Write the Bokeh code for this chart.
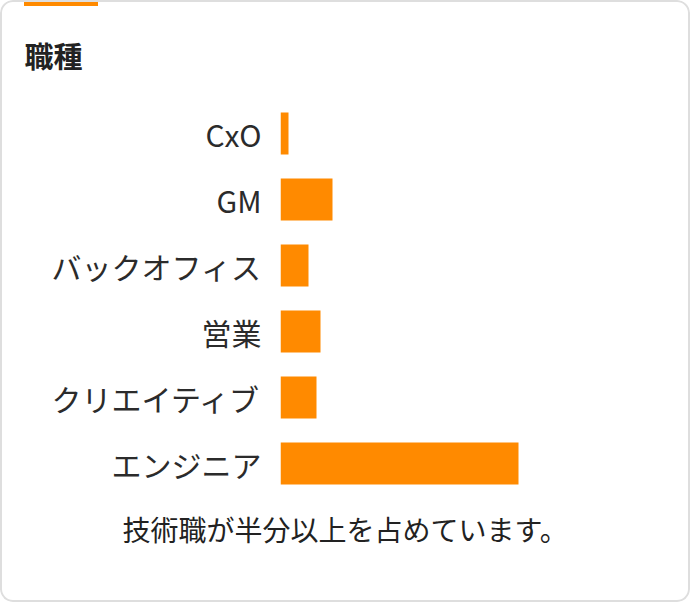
from bokeh.plotting import figure
from bokeh.models import Range1d, FactorRange, Title
from bokeh.embed import file_html
from bokeh.resources import INLINE

# ---- data ----
title_text = "職種"
categories = ["CxO", "GM", "バックオフィス", "営業", "クリエイティブ", "エンジニア"]
shares = [2, 13, 7, 10, 9, 59.5]
caption_text = "技術職が半分以上を占めています。"

ORANGE = "#FF8A00"
TEXT = "#2b2b2b"
FONT = "Noto Sans CJK JP"

W, H = 690, 602
FL, FT, FR, FB = 280, 100, 30, 106  # frame borders
frame_w = W - FL - FR
frame_h = H - FT - FB

p = figure(
    width=W, height=H,
    y_range=FactorRange(factors=list(reversed(categories))),
    x_range=Range1d(0, frame_w / 4.0),
    x_axis_location=None,
    output_backend="svg", toolbar_location=None,
    min_border_left=FL, min_border_right=FR, min_border_top=FT, min_border_bottom=FB,
    background_fill_color=None, border_fill_color=None,
    outline_line_color=None,
)
# card: rounded light-grey border and orange tab, drawn by CSS behind the transparent canvas
p.styles = {
    "background": f"linear-gradient({ORANGE}, {ORANGE}) 24px 0px / 74px 6px no-repeat, #ffffff",
    "box-shadow": "inset 0 0 0 2px #dedede",
    "border-radius": "13px",
}
p.ygrid.grid_line_color = None
p.xgrid.grid_line_color = None

p.hbar(y=categories, right=shares, left=0, height=0.64,
       fill_color=ORANGE, line_color=None)

ax = p.yaxis[0]
ax.axis_line_color = None
ax.major_tick_line_color = None
ax.minor_tick_line_color = None
ax.major_tick_out = 0
ax.major_tick_in = 0
ax.major_label_standoff = 19
ax.major_label_text_font = FONT
ax.major_label_text_font_size = "30px"
ax.major_label_text_color = TEXT

p.title.text = title_text
p.title.align = "left"
p.title.offset = 24 - FL
p.title.standoff = 50
p.title.text_font = FONT
p.title.text_font_size = "29px"
p.title.text_font_style = "bold"
p.title.text_color = "#222222"

cap = Title(text=caption_text, align="left", offset=122 - FL, standoff=20,
            text_font=FONT, text_font_size="28px", text_font_style="normal",
            text_color="#222222")
p.add_layout(cap, "below")

open("out.html", "w").write(file_html(p, INLINE))
